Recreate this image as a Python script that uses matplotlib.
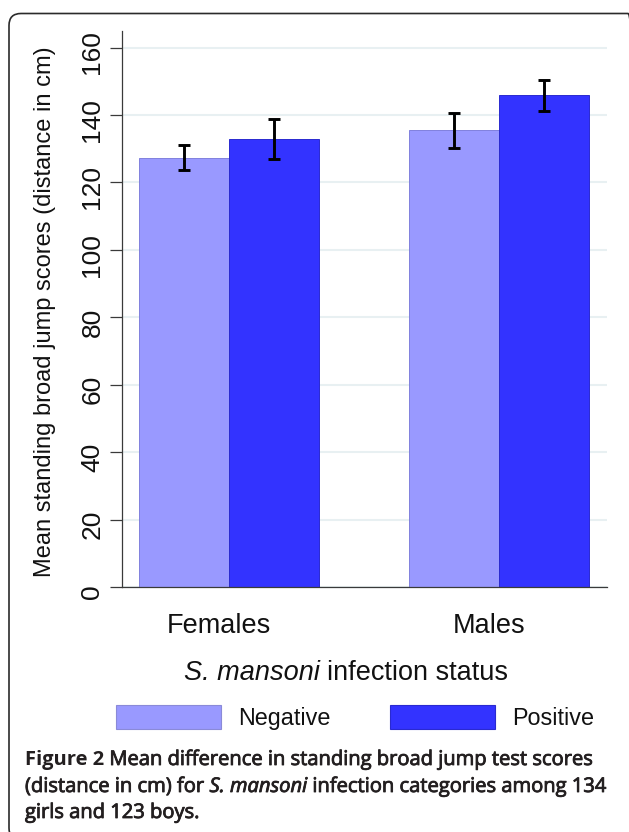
import matplotlib
matplotlib.use("Agg")
import matplotlib.pyplot as plt
import numpy as np
from matplotlib.patches import FancyBboxPatch, Patch
from matplotlib.transforms import ScaledTranslation
import matplotlib.patheffects as pe

# ---------------- data ----------------
groups = ["Females", "Males"]
series = ["Negative", "Positive"]
negative_mean = [127.2, 135.4]
positive_mean = [132.9, 145.8]
negative_ci_low = [123.8, 130.2]
negative_ci_high = [131.2, 140.5]
positive_ci_low = [126.9, 141.3]
positive_ci_high = [138.9, 150.4]
yticks = [0, 20, 40, 60, 80, 100, 120, 140, 160]

neg_color = "#9999ff"
pos_color = "#3333ff"

W, H = 629, 832
fig = plt.figure(figsize=(W / 100, H / 100), dpi=100)
fig.patch.set_facecolor("white")

# axes placement (pixels)
ax_left, ax_right, ax_top, ax_bottom = 121.5, 607, 31, 587
ax = fig.add_axes([ax_left / W, 1 - ax_bottom / H, (ax_right - ax_left) / W, (ax_bottom - ax_top) / H])

x = np.arange(len(groups))
bw = 0.333
neg_x = x - bw / 2
pos_x = x + bw / 2

ax.bar(neg_x, negative_mean, width=bw, color=neg_color, edgecolor="#8080dd", linewidth=0.7, zorder=2)
ax.bar(pos_x, positive_mean, width=bw, color=pos_color, edgecolor="#2a2ad0", linewidth=0.7, zorder=2)

neg_err = [np.array(negative_mean) - np.array(negative_ci_low), np.array(negative_ci_high) - np.array(negative_mean)]
pos_err = [np.array(positive_mean) - np.array(positive_ci_low), np.array(positive_ci_high) - np.array(positive_mean)]
ax.errorbar(neg_x, negative_mean, yerr=neg_err, fmt="none", ecolor="black", elinewidth=2.1, capsize=4.5, capthick=2.1, zorder=3)
ax.errorbar(pos_x, positive_mean, yerr=pos_err, fmt="none", ecolor="black", elinewidth=2.1, capsize=4.5, capthick=2.1, zorder=3)

ax.set_xlim(-0.398, 1.4)
ax.set_ylim(0, 164.9)
ax.set_yticks(yticks)
ax.set_yticklabels([str(v) for v in yticks])
ax.set_xticks(x)
ax.set_xticklabels(groups)

ax.yaxis.grid(True, color="#e8f0f2", linewidth=1.5, zorder=0)
ax.set_axisbelow(True)

for s in ["top", "right"]:
    ax.spines[s].set_visible(False)
for s in ["left", "bottom"]:
    ax.spines[s].set_color("#3a3a3a")
    ax.spines[s].set_linewidth(0.9)

font = "Liberation Sans"
ax.tick_params(axis="y", length=8.3, width=0.9, color="#3a3a3a", pad=4,
               labelsize=19, labelrotation=90, labelfontfamily=font, labelcolor="#111111")
ax.tick_params(axis="x", length=0, pad=19, labelsize=19.5, labelfontfamily=font, labelcolor="#111111")
for lab in ax.get_yticklabels():
    lab.set_va("center")
    lab.set_transform(lab.get_transform() + ScaledTranslation(0, -0.05, fig.dpi_scale_trans))
for lab in ax.get_xticklabels():
    lab.set_transform(lab.get_transform() + ScaledTranslation(-0.10, 0, fig.dpi_scale_trans))

# y label
fig.text(45 / W, 1 - 312 / H, "Mean standing broad jump scores (distance in cm)", rotation=90,
         ha="center", va="center", fontsize=17, family=font, color="#111111")

# x title with italic part
renderer = fig.canvas.get_renderer()
xt_y = 1 - 673 / H
t1 = fig.text(0, xt_y, "S. mansoni", fontsize=19.5, family=font, style="italic", va="center", color="#111111")
t2 = fig.text(0, xt_y, "infection status", fontsize=19.5, family=font, va="center", color="#111111")
sp = fig.text(0, 0, "a a", fontsize=19.5, family=font)
sp2 = fig.text(0, 0, "aa", fontsize=19.5, family=font)
space_w = sp.get_window_extent(renderer).width - sp2.get_window_extent(renderer).width
sp.remove(); sp2.remove()
w1 = t1.get_window_extent(renderer).width
w2 = t2.get_window_extent(renderer).width
total = w1 + space_w + w2
cx = 346
t1.set_x((cx - total / 2) / W)
t2.set_x((cx - total / 2 + w1 + space_w) / W)

# legend
handles = [Patch(facecolor=neg_color, edgecolor="#8a8ad8", linewidth=0.8),
           Patch(facecolor=pos_color, edgecolor="#2a2ad0", linewidth=0.8)]
leg_fs = 16.8
fs_px = leg_fs * 100 / 72
leg = fig.legend(handles, series, loc="upper left", bbox_to_anchor=(116 / W, 1 - 705 / H),
                 ncol=2, frameon=False, borderpad=0, borderaxespad=0,
                 handlelength=105 / fs_px, handleheight=28 / fs_px, handletextpad=17 / fs_px,
                 columnspacing=60 / fs_px, prop={"family": font, "size": leg_fs})
for t in leg.get_texts():
    t.set_color("#111111")

# caption
cap_font = "Open Sans"
cap_fs = 14.5
cap_color = "#231f20"
cap_x = 25
semi = [pe.withStroke(linewidth=0.6, foreground=cap_color)]
cap_lines = [
    [("Figure 2", "bold", "normal"), ("Mean difference in standing broad jump test scores", "normal", "normal")],
    [("(distance in cm) for", "normal", "normal"), ("S. mansoni", "normal", "italic"), ("infection categories among 134", "normal", "normal")],
    [("girls and 123 boys.", "normal", "normal")],
]
cap_ys = [760, 787, 813]
a1 = fig.text(0, 0, "a a", fontsize=cap_fs, family=cap_font)
a2 = fig.text(0, 0, "aa", fontsize=cap_fs, family=cap_font)
cap_space = a1.get_window_extent(renderer).width - a2.get_window_extent(renderer).width
a1.remove(); a2.remove()
for runs, yy in zip(cap_lines, cap_ys):
    xx = cap_x
    for txt, wt, st in runs:
        t = fig.text(xx / W, 1 - yy / H, txt, fontsize=cap_fs, family=cap_font, weight=wt, style=st,
                     va="center", ha="left", color=cap_color)
        if wt == "normal":
            t.set_path_effects(semi)
        xx += t.get_window_extent(renderer).width + cap_space

# rounded frame
frame = FancyBboxPatch((9 / 100, -0.08), (640 - 9) / 100, (H - 13.5) / 100 + 0.08,
                       boxstyle="round,pad=0,rounding_size=0.12", transform=fig.dpi_scale_trans,
                       facecolor="none", edgecolor="#2b2b2b", linewidth=1.2, clip_on=False)
fig.add_artist(frame)

fig.savefig("out.png", dpi=100, facecolor="white")
